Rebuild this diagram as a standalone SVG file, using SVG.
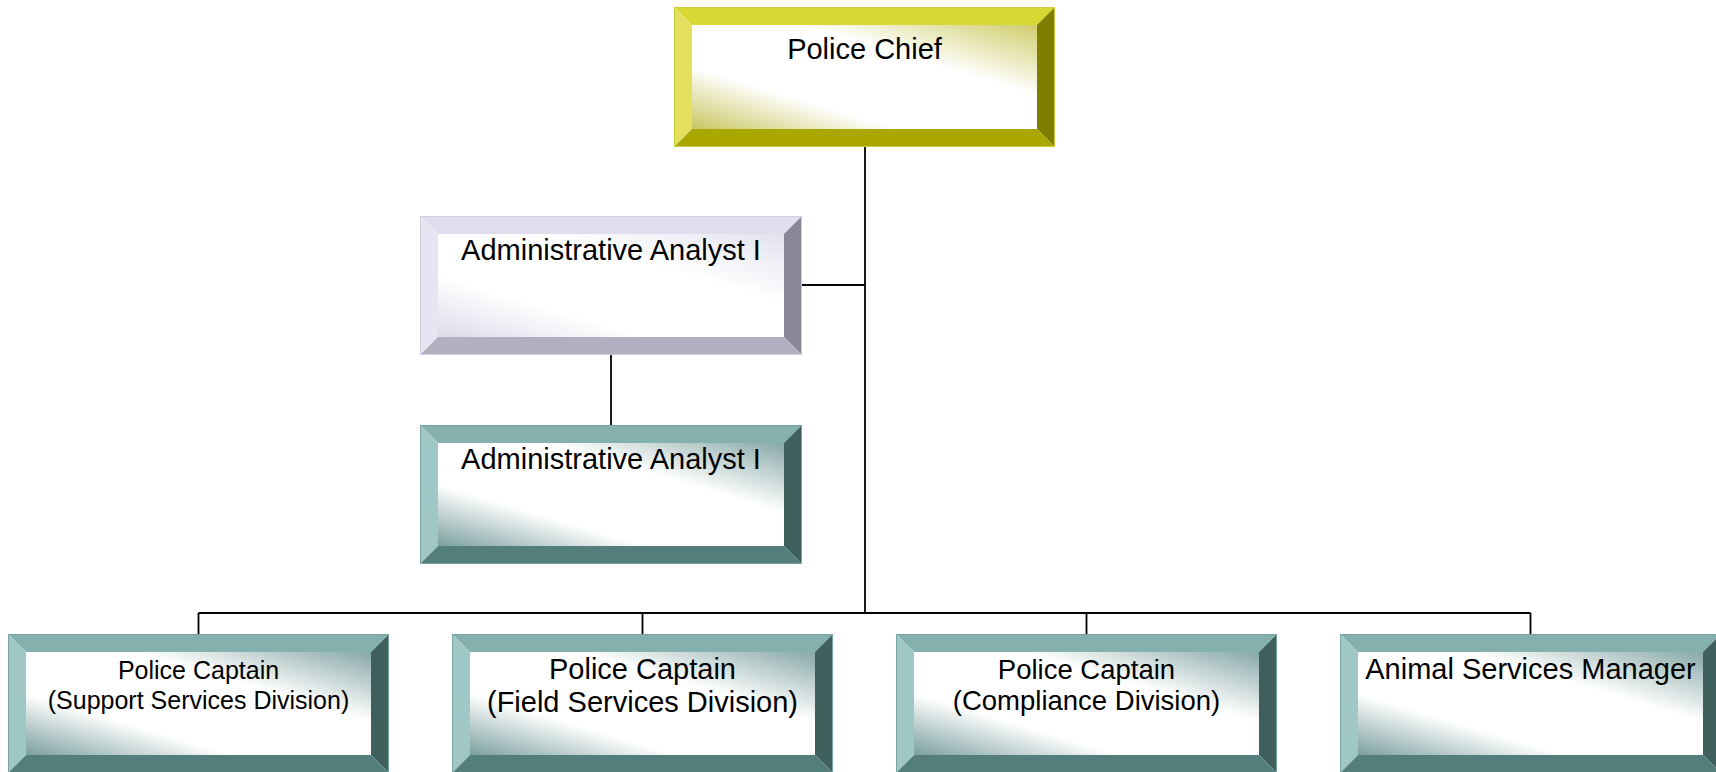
<svg xmlns="http://www.w3.org/2000/svg" width="1716" height="772" viewBox="0 0 1716 772">
<style>
text{font-family:"Liberation Sans",Arial,sans-serif;fill:#000;text-anchor:middle}
.conn{stroke:#000;stroke-width:1.8;fill:none}
.t-top{fill:#84b0ae}.t-left{fill:#9fc7c5}.t-right{fill:#3f5f5d}.t-bot{fill:#547e7c}.t-out{fill:none;stroke:#77a3a1;stroke-width:1}
.y-top{fill:#d9d733}.y-left{fill:#e2e05e}.y-right{fill:#807e00}.y-bot{fill:#aaa800}.y-out{fill:none;stroke:#cfcd3a;stroke-width:1}
.l-top{fill:#dedeee}.l-left{fill:#e6e6f2}.l-right{fill:#878799}.l-bot{fill:#b0b0c2}.l-out{fill:none;stroke:#cfcfe2;stroke-width:1}
</style>
<defs>
<linearGradient id="gT" x1="0" y1="1" x2="1" y2="0">
<stop offset="0" stop-color="#7a9f9d"/><stop offset="0.3" stop-color="#ffffff"/><stop offset="0.66" stop-color="#ffffff"/><stop offset="1" stop-color="#87a8a6"/>
</linearGradient>
<linearGradient id="gY" x1="0" y1="1" x2="1" y2="0">
<stop offset="0" stop-color="#c8c660"/><stop offset="0.3" stop-color="#ffffff"/><stop offset="0.66" stop-color="#ffffff"/><stop offset="1" stop-color="#cfcd6a"/>
</linearGradient>
<linearGradient id="gL" x1="0" y1="1" x2="1" y2="0">
<stop offset="0" stop-color="#dcdcea"/><stop offset="0.3" stop-color="#ffffff"/><stop offset="0.66" stop-color="#ffffff"/><stop offset="1" stop-color="#e2e2ef"/>
</linearGradient>
</defs>

<g id="connectors">
<path class="conn" d="M865 147V613"/>
<path class="conn" d="M802 285H865"/>
<path class="conn" d="M611 355V425"/>
<path class="conn" d="M198.5 613H1530.5"/>
<path class="conn" d="M198.5 613V634M642.5 613V634M1086.5 613V634M1530.5 613V634"/>
</g>

<g id="police-chief">
<polygon class="y-top" points="674,7 1055,7 1037,25 692,25"/>
<polygon class="y-left" points="674,7 692,25 692,129 674,147"/>
<polygon class="y-right" points="1055,7 1055,147 1037,129 1037,25"/>
<polygon class="y-bot" points="674,147 692,129 1037,129 1055,147"/>
<rect x="692" y="25" width="345" height="104" fill="url(#gY)"/>
<rect class="y-out" x="674.5" y="7.5" width="380" height="139"/>
<text x="864.5" y="59" font-size="29">Police Chief</text>
</g>

<g id="admin-analyst-1">
<polygon class="l-top" points="420,216 802,216 784,234 438,234"/>
<polygon class="l-left" points="420,216 438,234 438,337 420,355"/>
<polygon class="l-right" points="802,216 802,355 784,337 784,234"/>
<polygon class="l-bot" points="420,355 438,337 784,337 802,355"/>
<rect x="438" y="234" width="346" height="103" fill="url(#gL)"/>
<rect class="l-out" x="420.5" y="216.5" width="381" height="138"/>
<text x="611" y="260" font-size="29">Administrative Analyst I</text>
</g>

<g id="admin-analyst-2">
<polygon class="t-top" points="420,425 802,425 784,443 438,443"/>
<polygon class="t-left" points="420,425 438,443 438,546 420,564"/>
<polygon class="t-right" points="802,425 802,564 784,546 784,443"/>
<polygon class="t-bot" points="420,564 438,546 784,546 802,564"/>
<rect x="438" y="443" width="346" height="103" fill="url(#gT)"/>
<rect class="t-out" x="420.5" y="425.5" width="381" height="138"/>
<text x="611" y="469" font-size="29">Administrative Analyst I</text>
</g>

<g id="captain-support">
<polygon class="t-top" points="8,634 389,634 371,652 26,652"/>
<polygon class="t-left" points="8,634 26,652 26,755 8,773"/>
<polygon class="t-right" points="389,634 389,773 371,755 371,652"/>
<polygon class="t-bot" points="8,773 26,755 371,755 389,773"/>
<rect x="26" y="652" width="345" height="103" fill="url(#gT)"/>
<rect class="t-out" x="8.5" y="634.5" width="380" height="139"/>
<text x="198.5" y="679" font-size="25">Police Captain</text>
<text x="198.5" y="709" font-size="25">(Support Services Division)</text>
</g>

<g id="captain-field">
<polygon class="t-top" points="452,634 833,634 815,652 470,652"/>
<polygon class="t-left" points="452,634 470,652 470,755 452,773"/>
<polygon class="t-right" points="833,634 833,773 815,755 815,652"/>
<polygon class="t-bot" points="452,773 470,755 815,755 833,773"/>
<rect x="470" y="652" width="345" height="103" fill="url(#gT)"/>
<rect class="t-out" x="452.5" y="634.5" width="380" height="139"/>
<text x="642.5" y="679" font-size="29">Police Captain</text>
<text x="642.5" y="712" font-size="29">(Field Services Division)</text>
</g>

<g id="captain-compliance">
<polygon class="t-top" points="896,634 1277,634 1259,652 914,652"/>
<polygon class="t-left" points="896,634 914,652 914,755 896,773"/>
<polygon class="t-right" points="1277,634 1277,773 1259,755 1259,652"/>
<polygon class="t-bot" points="896,773 914,755 1259,755 1277,773"/>
<rect x="914" y="652" width="345" height="103" fill="url(#gT)"/>
<rect class="t-out" x="896.5" y="634.5" width="380" height="139"/>
<text x="1086.5" y="679" font-size="27.5">Police Captain</text>
<text x="1086.5" y="710" font-size="27.5">(Compliance Division)</text>
</g>

<g id="animal-services">
<polygon class="t-top" points="1340,634 1721,634 1703,652 1358,652"/>
<polygon class="t-left" points="1340,634 1358,652 1358,755 1340,773"/>
<polygon class="t-right" points="1721,634 1721,773 1703,755 1703,652"/>
<polygon class="t-bot" points="1340,773 1358,755 1703,755 1721,773"/>
<rect x="1358" y="652" width="345" height="103" fill="url(#gT)"/>
<rect class="t-out" x="1340.5" y="634.5" width="380" height="139"/>
<text x="1530.5" y="679" font-size="29">Animal Services Manager</text>
</g>
</svg>
